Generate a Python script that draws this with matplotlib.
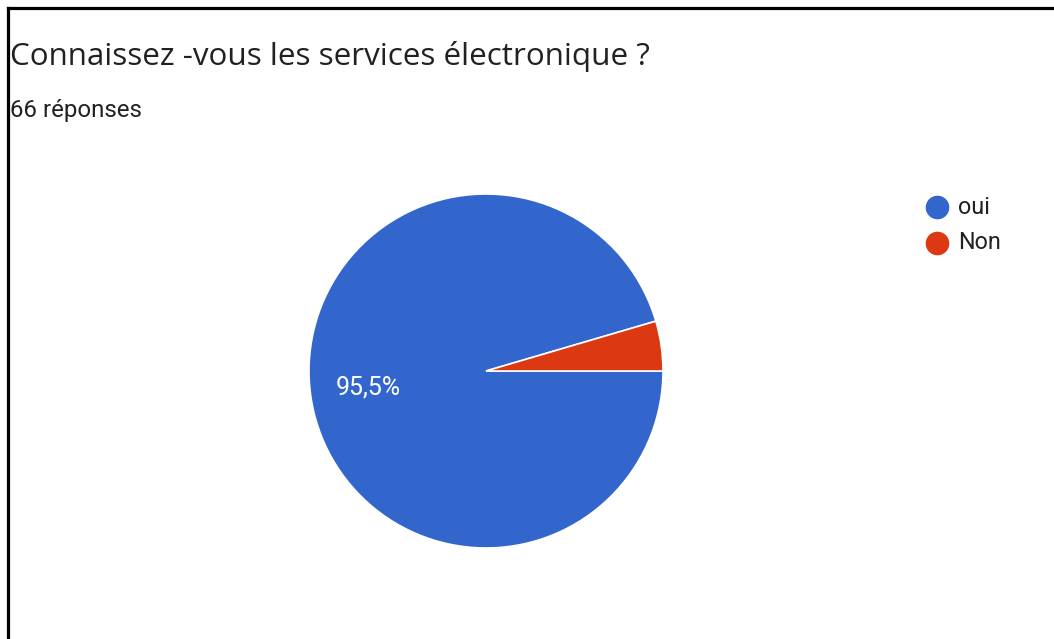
import matplotlib.pyplot as plt
from matplotlib.lines import Line2D

title = "Connaissez -vous les services électronique ?"
subtitle = "66 réponses"
labels = ["oui", "Non"]
counts = [63, 3]
colors = ["#3366CC", "#DC3912"]

W, H = 1054, 639
fig = plt.figure(figsize=(W / 100, H / 100), dpi=100)
fig.patch.set_facecolor("white")

# frame lines on the left and top
fig.add_artist(Line2D([8 / W, 8 / W], [0, 1 - 8 / H], color="black", lw=2.3))
fig.add_artist(Line2D([8 / W, 1], [1 - 8 / H, 1 - 8 / H], color="black", lw=2.3))

fig.text(10 / W, 1 - 57 / H, title, fontsize=22.6, family="Open Sans",
         color="#212121", va="center", ha="left")
fig.text(10 / W, 1 - 111 / H, subtitle, fontsize=17.3, family="Roboto",
         color="#212121", va="center", ha="left")

# pie
cx, cy, r = 486, 371, 177
ax = fig.add_axes([(cx - r) / W, (H - cy - r) / H, 2 * r / W, 2 * r / H])


def fmt(p):
    return f"{p:.1f}%".replace(".", ",") if p > 10 else ""


ax.pie(counts, colors=colors, startangle=0, counterclock=False,
       autopct=fmt, pctdistance=0.67,
       wedgeprops=dict(edgecolor="white", linewidth=1.2),
       textprops=dict(color="white", fontsize=18, family="Roboto"))
ax.set_xlim(-1, 1)
ax.set_ylim(-1, 1)
ax.axis("off")

# legend
for i, (lab, col) in enumerate(zip(labels, colors)):
    y = 1 - (207 + 36 * i) / H
    fig.add_artist(Line2D([937 / W], [y], marker="o", markersize=16,
                          color=col, linestyle="none"))
    fig.text(958 / W, y, lab, fontsize=16.8, family="Roboto",
             color="#212121", va="center", ha="left")

fig.savefig("out.png", dpi=100)
